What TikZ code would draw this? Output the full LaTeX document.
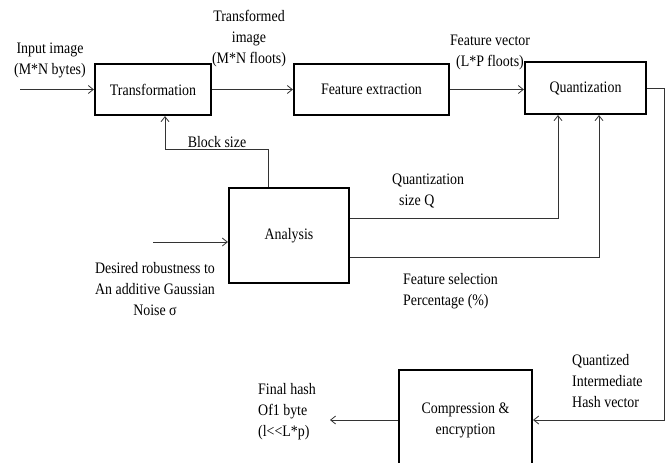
\documentclass[tikz,border=0pt]{standalone}
\usepackage{fontspec}
\setmainfont[FakeStretch=0.87]{Liberation Serif}
\usetikzlibrary{arrows.meta}
\begin{document}
\begin{tikzpicture}[x=1pt,y=-1pt,
  box/.style={draw=black,line width=2.2pt,inner sep=0pt,font=\fontsize{16}{21}\selectfont},
  lbl/.style={inner sep=0pt,align=center,font=\fontsize{16}{21}\selectfont},
  lbll/.style={inner sep=0pt,align=left,font=\fontsize{16}{21}\selectfont},
  arr/.style={draw=black!80,line width=0.8pt,-{Straight Barb[length=5pt,width=8pt]}},
  ln/.style={draw=black!80,line width=0.8pt}]
\useasboundingbox[fill=white] (0,0) rectangle (672,463);
% boxes
\node[box,minimum width=116pt,minimum height=51pt] (T) at (153,89.5) {Transformation};
\node[box,minimum width=155pt,minimum height=51pt] (F) at (371.5,89.5) {Feature extraction};
\node[box,minimum width=121pt,minimum height=52pt] (Q) at (585.5,88) {Quantization};
\node[box,minimum width=120pt,minimum height=95pt] (A) at (289,235.5) {Analysis};
\node[box,minimum width=133pt,minimum height=100pt,align=center] (C) at (465.5,420) {Compression \&\\encryption};
% labels
\node[lbl] (l1) at (50,60) {Input image\\(M*N bytes)};
\node[lbl] (l2) at (249,39) {Transformed\\image\\(M*N floots)};
\node[lbl] (l3) at (490,52) {Feature vector\\(L*P floots)};
\node[lbl] (l4) at (217,142) {Block size};
\node[lbll,anchor=west] (l5) at (392,191) {Quantization\\\ \ size Q};
\node[lbll,anchor=west] (l6) at (403,291) {Feature selection\\Percentage (\%)};
\node[lbl] (l7) at (155,289) {Desired robustness to\\An additive Gaussian\\Noise σ};
\node[lbll,anchor=west] (l8) at (572,381) {Quantized\\Intermediate\\Hash vector};
\node[lbll,anchor=west] (l9) at (258,412) {Final hash\\Of1 byte\\(l{<}{<}L*p)};
% connectors
\coordinate (in1) at (20,89.5);
\coordinate (in2) at (153,242);
\coordinate (out1) at (330,420);
\draw[arr] (in1) -- (T.west);
\draw[arr] (T.east) -- (F.west);
\draw[arr] (F.east) -- (F.east -| Q.west);
\draw[arr] (A.north -| 268,0) -- (268,149) -| (T.south -| 165,0);
\draw[arr] (in2) -- (in2 -| A.west);
\draw[arr] (A.east |- 0,218) -- (558,218) -- (Q.south -| 558,0);
\draw[arr] (A.east |- 0,257) -- (599,257) -- (Q.south -| 599,0);
\draw[arr] (Q.east) -- (664,88) -- (664,420) -- (C.east);
\draw[arr] (C.west) -- (out1);
\end{tikzpicture}
\end{document}
